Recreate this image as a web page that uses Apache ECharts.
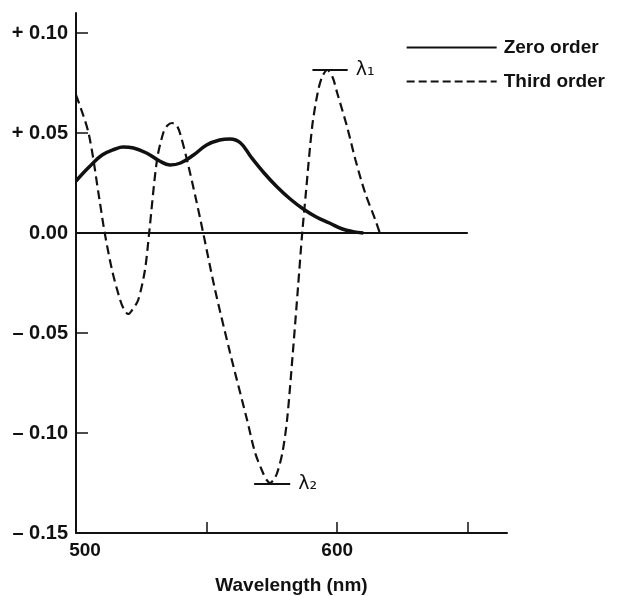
<!DOCTYPE html>
<html>
<head>
<meta charset="utf-8">
<script src="https://cdn.jsdelivr.net/npm/echarts@6/dist/echarts.min.js"></script>
<style>
    html, body { margin: 0; padding: 0; background: #fff; }
    #chart { width: 618px; height: 596px; }
</style>
</head>
<body>
<div id="chart"></div>
<script>
// wavelength (nm) / value pairs
const zeroOrderNm = [500, 505, 510, 515, 518, 522, 527, 532, 536, 540, 545, 550, 555, 559, 563, 567, 572, 577, 582, 587, 592, 597, 602, 606, 610];
const zeroOrderVal = [0.026, 0.033, 0.039, 0.042, 0.043, 0.0425, 0.040, 0.036, 0.034, 0.035, 0.039, 0.044, 0.0465, 0.047, 0.045, 0.038, 0.030, 0.023, 0.017, 0.012, 0.008, 0.005, 0.002, 0.0007, 0.0];

const thirdOrderNm = [500, 504.8, 509, 511, 513.8, 516.9, 518.5, 520, 521.5, 523.8, 526.4, 528, 531, 533.4, 535, 536.8, 538.5, 539.8, 542.5, 546, 548.7, 553, 559, 565.5, 568.6, 571.6, 573, 574.3, 575.6, 577, 579, 580.8, 583, 585, 586.6, 588, 590.4, 592.5, 594.2, 596.2, 598.2, 600, 603.8, 607, 610.7, 614.6, 616.3];
const thirdOrderVal = [0.069, 0.050, 0.0165, 0.0, -0.0185, -0.0335, -0.0385, -0.0405, -0.0385, -0.0335, -0.0185, 0.0, 0.0365, 0.050, 0.0538, 0.055, 0.0538, 0.050, 0.0365, 0.0165, 0.0, -0.027, -0.060, -0.0935, -0.110, -0.120, -0.1235, -0.125, -0.1235, -0.120, -0.110, -0.0935, -0.060, -0.027, 0.0, 0.020, 0.053, 0.070, 0.078, 0.0815, 0.078, 0.070, 0.053, 0.0365, 0.020, 0.0065, 0.0];

// peak / trough markers
const lambda1 = { from: 590.5, to: 604, level: 0.0815, text: 'λ₁' };
const lambda2 = { from: 568.2, to: 582, level: -0.1255, text: 'λ₂' };

// axes
const xTicks = [500, 550, 600, 650];
const xLabels = [500, 600];
const yTicks = [-0.15, -0.10, -0.05, 0, 0.05, 0.10];
const yLabels = ['– 0.15', '– 0.10', '– 0.05', '0.00', '+ 0.05', '+ 0.10'];
const baseline = [500, 650];

const font = 'Liberation Sans, Arial, Helvetica, sans-serif';

function pairs(xs, ys) {
    return xs.map((x, i) => [x, ys[i]]);
}

const chart = echarts.init(document.getElementById('chart'));

const option = {
    backgroundColor: '#fff',
    animation: false,
    grid: {
        left: 76, right: 111, top: 13, bottom: 63,
        containLabel: false,
        outerBoundsMode: 'none'
    },
    legend: {
        orient: 'vertical',
        right: 8,
        top: 33,
        itemWidth: 90,
        itemHeight: 14,
        itemGap: 15,
        selectedMode: false,
        itemStyle: { opacity: 0 },
        textStyle: { fontFamily: font, fontSize: 19, fontWeight: 'bold', color: '#111', padding: [0, 0, 0, 2] },
        data: [
            { name: 'Zero order', lineStyle: { width: 2 } },
            { name: 'Third order', lineStyle: { width: 2, type: [8, 4] } }
        ]
    },
    xAxis: {
        type: 'value',
        min: 500,
        max: 665,
        name: 'Wavelength (nm)',
        nameLocation: 'middle',
        nameGap: 43,
        nameTextStyle: { fontFamily: font, fontSize: 19, fontWeight: 'bold', color: '#111' },
        axisLine: { onZero: false, lineStyle: { color: '#111', width: 2 } },
        axisTick: { inside: true, length: 11, customValues: xTicks, lineStyle: { color: '#111', width: 1.5 } },
        splitLine: { show: false },
        axisLabel: {
            customValues: xLabels,
            margin: 8,
            fontFamily: font, fontSize: 19, fontWeight: 'bold', color: '#111',
            formatter: v => v === 500 ? '{s|500}' : String(v),
            rich: { s: { fontFamily: font, fontSize: 19, fontWeight: 'bold', color: '#111', padding: [0, 0, 0, 18] } }
        }
    },
    yAxis: {
        type: 'value',
        min: -0.15,
        max: 0.11,
        axisLine: { onZero: false, lineStyle: { color: '#111', width: 2 } },
        axisTick: { inside: true, length: 12, customValues: yTicks, lineStyle: { color: '#111', width: 1.5 } },
        splitLine: { show: false },
        axisLabel: {
            customValues: yTicks,
            margin: 8,
            fontFamily: font, fontSize: 20, fontWeight: 'bold', color: '#111',
            formatter: v => {
                const i = yTicks.findIndex(t => Math.abs(t - v) < 1e-9);
                return i >= 0 ? yLabels[i] : '';
            }
        }
    },
    series: [
        {
            name: 'zero line',
            type: 'line',
            symbol: 'none',
            silent: true,
            lineStyle: { color: '#111', width: 2 },
            data: baseline.map(x => [x, 0])
        },
        {
            name: 'Zero order',
            type: 'line',
            symbol: 'none',
            smooth: 0.4,
            color: '#111',
            lineStyle: { color: '#111', width: 3.5 },
            data: pairs(zeroOrderNm, zeroOrderVal)
        },
        {
            name: 'Third order',
            type: 'line',
            symbol: 'none',
            smooth: 0.3,
            color: '#111',
            lineStyle: { color: '#111', width: 2.2, type: [9, 5] },
            data: pairs(thirdOrderNm, thirdOrderVal),
            markLine: {
                silent: true,
                symbol: 'none',
                animation: false,
                lineStyle: { color: '#111', width: 2, type: 'solid' },
                label: {
                    position: 'end',
                    distance: 8,
                    fontFamily: 'DejaVu Sans, sans-serif',
                    fontSize: 19,
                    color: '#111',
                    formatter: p => p.name
                },
                data: [lambda1, lambda2].map(m => [
                    { name: m.text, coord: [m.from, m.level] },
                    { coord: [m.to, m.level] }
                ])
            }
        }
    ]
};

chart.setOption(option);
</script>
</body>
</html>
